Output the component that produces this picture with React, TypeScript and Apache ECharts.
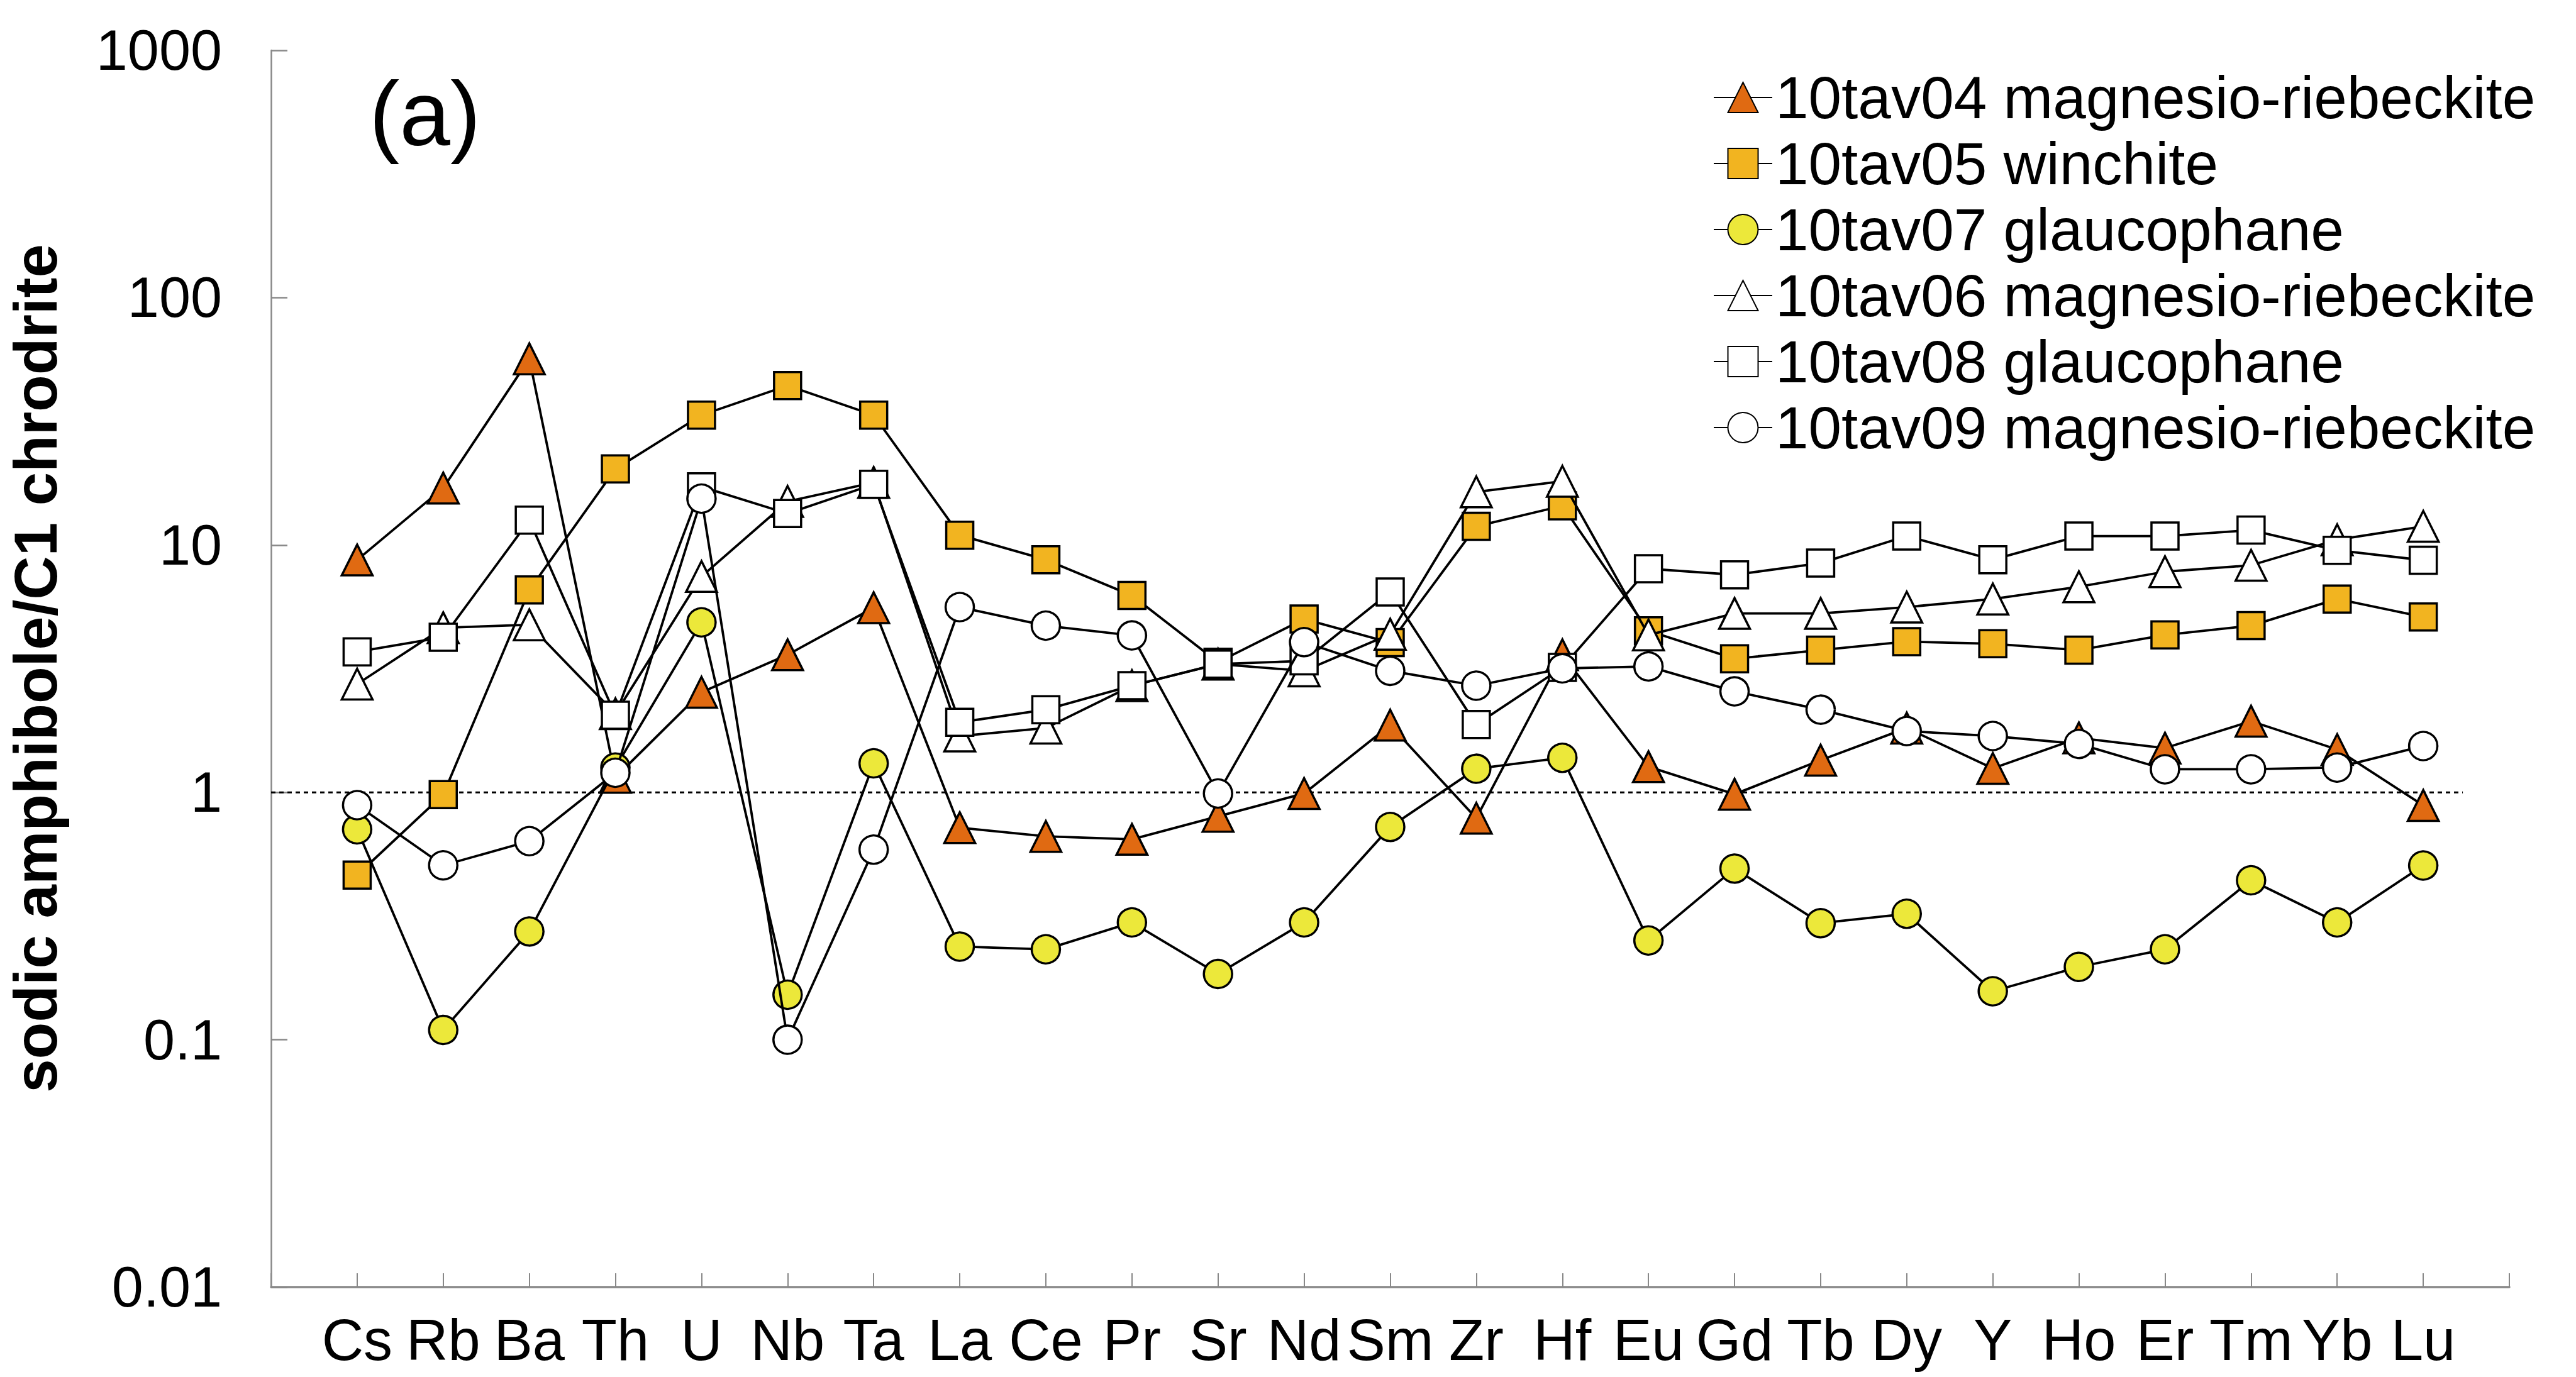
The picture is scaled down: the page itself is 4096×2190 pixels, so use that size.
import React, { useEffect, useRef } from "react";
import * as echarts from "echarts";

const elements = ["Cs", "Rb", "Ba", "Th", "U", "Nb", "Ta", "La", "Ce", "Pr", "Sr", "Nd", "Sm", "Zr", "Hf", "Eu", "Gd", "Tb", "Dy", "Y", "Ho", "Er", "Tm", "Yb", "Lu"];

const yTickValues = [0.01, 0.1, 1, 10, 100, 1000];

const tav04 = [8.7, 17.0, 56.6, 1.15, 2.54, 3.6, 5.58, 0.72, 0.664, 0.646, 0.8, 0.99, 1.87, 0.786, 3.6, 1.27, 0.983, 1.35, 1.82, 1.25, 1.66, 1.51, 1.94, 1.49, 0.886];
const tav05 = [0.463, 0.98, 6.58, 20.3, 33.5, 44.1, 33.5, 10.96, 8.72, 6.25, 3.36, 5.02, 4.03, 11.9, 14.4, 4.5, 3.47, 3.76, 4.07, 3.99, 3.76, 4.33, 4.72, 6.05, 5.12];
const tav07 = [0.709, 0.1095, 0.274, 1.26, 4.87, 0.152, 1.31, 0.238, 0.232, 0.298, 0.1845, 0.298, 0.725, 1.246, 1.38, 0.252, 0.492, 0.296, 0.323, 0.157, 0.197, 0.232, 0.441, 0.298, 0.506];
const tav06 = [2.74, 4.63, 4.76, 2.08, 7.46, 15.0, 17.9, 1.69, 1.82, 2.7, 3.3, 3.1, 4.36, 16.4, 18.1, 4.33, 5.29, 5.29, 5.61, 6.05, 6.78, 7.8, 8.28, 10.5, 11.9];
const tav08 = [3.7, 4.24, 12.6, 2.05, 17.2, 13.4, 17.6, 1.92, 2.16, 2.7, 3.3, 3.4, 6.46, 1.88, 3.2, 8.02, 7.58, 8.45, 10.87, 8.72, 10.87, 10.87, 11.49, 9.52, 8.68];
const tav09 = [0.888, 0.507, 0.635, 1.2, 15.4, 0.1, 0.587, 5.61, 4.72, 4.31, 0.99, 4.05, 3.1, 2.7, 3.17, 3.23, 2.56, 2.16, 1.77, 1.69, 1.57, 1.24, 1.24, 1.26, 1.54];

const seriesNames = [
  "10tav04 magnesio-riebeckite",
  "10tav05 winchite",
  "10tav07 glaucophane",
  "10tav06 magnesio-riebeckite",
  "10tav08 glaucophane",
  "10tav09 magnesio-riebeckite",
];
const seriesValues = [tav04, tav05, tav07, tav06, tav08, tav09];
const seriesSymbols = ["triangle", "rect", "circle", "triangle", "rect", "circle"];
const seriesFills = ["#E06A12", "#F2B420", "#ECE83A", "#FFFFFF", "#FFFFFF", "#FFFFFF"];
const symbolSizes: Record<string, number> = { triangle: 49, rect: 43, circle: 45 };

const referenceLine = [[-1, 1], [24.46, 1]];

const FONT = "'Liberation Sans', Arial, Helvetica, sans-serif";

export default function App() {
  const ref = useRef<HTMLDivElement>(null);

  useEffect(() => {
    if (!ref.current) return;
    const chart = echarts.init(ref.current, null, { renderer: "svg" });

    const lineSeries = seriesNames.map((name, k) => ({
      name,
      type: "line",
      data: seriesValues[k].map((v, i) => [i, v]),
      symbol: seriesSymbols[k],
      symbolSize: symbolSizes[seriesSymbols[k]],
      showAllSymbol: true,
      itemStyle: { color: seriesFills[k], borderColor: "#000", borderWidth: 3.5, opacity: 1 },
      lineStyle: { color: "#000", width: 3.8 },
      emphasis: { disabled: true },
      z: 3 + k,
    }));

    chart.setOption({
      animation: false,
      backgroundColor: "#fff",
      textStyle: { fontFamily: FONT },
      grid: { left: 431, right: 106, top: 80, bottom: 143, containLabel: false },
      legend: {
        data: seriesNames,
        orient: "vertical",
        left: 2719,
        top: 100,
        itemWidth: 93,
        itemHeight: 60,
        itemGap: 5,
        selectedMode: false,
        textStyle: { fontSize: 94.5, lineHeight: 100, color: "#000", fontFamily: FONT },
      },
      xAxis: {
        type: "value",
        min: -1,
        max: 25,
        interval: 1,
        axisLine: { onZero: false, lineStyle: { color: "#888", width: 3.5 } },
        axisTick: { inside: true, length: 22, lineStyle: { color: "#888", width: 2 } },
        splitLine: { show: false },
        axisLabel: {
          margin: 38,
          fontSize: 92,
          color: "#000",
          fontFamily: FONT,
          showMinLabel: true,
          showMaxLabel: true,
          formatter: (v: number) => {
            const i = Math.round(v);
            return i >= 0 && i < elements.length ? elements[i] : "";
          },
        },
      },
      yAxis: {
        type: "log",
        logBase: 10,
        min: yTickValues[0],
        max: yTickValues[yTickValues.length - 1],
        axisLine: { show: true, onZero: false, lineStyle: { color: "#888", width: 2.5 } },
        axisTick: { show: true, inside: true, length: 26, lineStyle: { color: "#888", width: 2.5 } },
        minorTick: { show: false },
        splitLine: { show: false },
        axisLabel: {
          margin: 78,
          fontSize: 90,
          color: "#000",
          fontFamily: FONT,
          formatter: (v: number) => String(Number(v.toPrecision(3))),
        },
      },
      graphic: [
        {
          type: "text",
          left: 587,
          top: 108,
          style: { text: "(a)", fontSize: 145, fontFamily: FONT, fill: "#000" },
        },
        {
          type: "text",
          x: 56,
          y: 1063,
          rotation: Math.PI / 2,
          style: {
            text: "sodic amphibole/C1 chrodrite",
            fontSize: 96,
            lineHeight: 96,
            fontWeight: "bold",
            fontFamily: FONT,
            fill: "#000",
            align: "center",
            verticalAlign: "middle",
          },
        },
      ],
      series: [
        {
          name: "ref",
          type: "line",
          data: referenceLine,
          symbol: "none",
          silent: true,
          lineStyle: { color: "#000", width: 3, type: [7, 6] },
          z: 1,
        },
        ...lineSeries,
      ],
    });

    return () => chart.dispose();
  }, []);

  return (
    <div
      ref={ref}
      style={{ position: "absolute", left: 0, top: 0, width: 4096, height: 2190 }}
    />
  );
}
